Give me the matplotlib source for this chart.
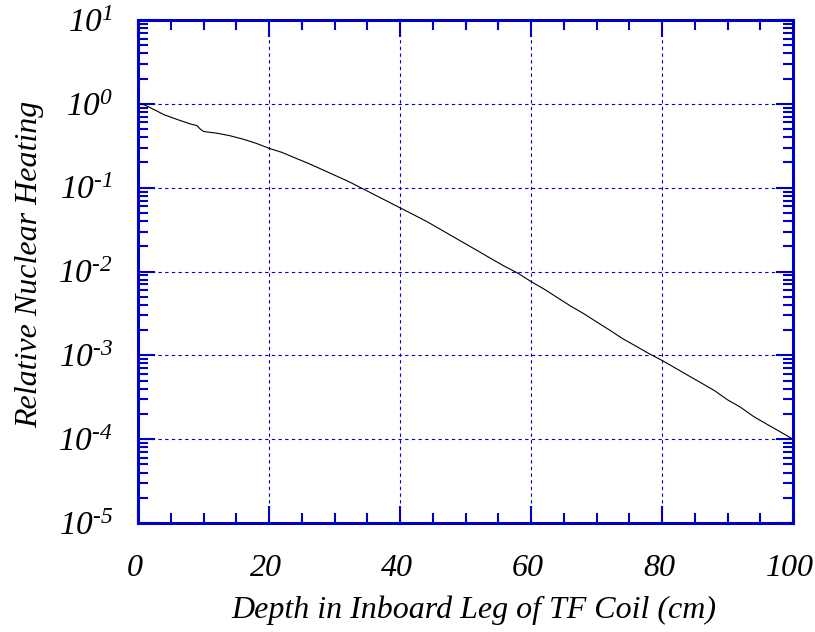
import matplotlib
matplotlib.use("Agg")
import matplotlib.pyplot as plt
import matplotlib.transforms as mtrans
import numpy as np
from matplotlib.ticker import LogLocator, FuncFormatter, NullFormatter, MultipleLocator

plt.rcParams['font.family'] = ['Liberation Serif']
plt.rcParams['font.style'] = 'italic'
plt.rcParams['mathtext.fontset'] = 'custom'
plt.rcParams['mathtext.rm'] = 'Liberation Serif:italic'
plt.rcParams['mathtext.it'] = 'Liberation Serif:italic'

depth = [0, 1, 2, 4, 6, 8, 9, 9.5, 10, 12, 14, 16, 18, 20, 22, 24, 26, 28, 30, 32, 34,
         36, 38, 40, 42, 44, 46, 48, 50, 52, 54, 56, 58, 60, 62, 64, 66, 68, 70, 72,
         74, 76, 78, 80, 82, 84, 86, 88, 90, 92, 94, 96, 98, 100]
heating = [1.0, 0.97, 0.89, 0.74, 0.65, 0.575, 0.55, 0.50, 0.468, 0.447, 0.417, 0.38,
           0.339, 0.295, 0.263, 0.226, 0.195, 0.166, 0.141, 0.120, 0.100,
           0.0832, 0.0692, 0.0575, 0.0479, 0.0398, 0.0324, 0.0263, 0.0214, 0.0174,
           0.0141, 0.0115, 0.00955, 0.00759, 0.00617, 0.0049, 0.00389, 0.00316,
           0.00251, 0.002, 0.00158, 0.00129, 0.00105, 0.00087, 0.000708, 0.000575,
           0.000468, 0.00038, 0.000295, 0.00024, 0.000186, 0.000151, 0.000123, 0.0001]

xlim = (0, 100)
ylim = (1e-5, 1e1)
xlabel = "Depth in Inboard Leg of TF Coil (cm)"
ylabel = "Relative Nuclear Heating"

blue = '#0000CC'
fig = plt.figure(figsize=(8.15, 6.32), dpi=100)
ax = fig.add_axes([138/815, 1-523/632, (793-138)/815, (523-20)/632])
ax.plot(depth, heating, color='black', lw=0.8)
ax.set_yscale('log')
ax.set_xlim(*xlim)
ax.set_ylim(*ylim)

ax.xaxis.set_major_locator(MultipleLocator(20))
ax.xaxis.set_minor_locator(MultipleLocator(5))
ax.yaxis.set_major_locator(LogLocator(base=10, numticks=20))
ax.yaxis.set_minor_locator(LogLocator(base=10, subs=np.arange(2, 10), numticks=20))
ax.yaxis.set_minor_formatter(NullFormatter())
ax.yaxis.set_major_formatter(FuncFormatter(
    lambda v, p: r'$10^{\text{%d}}$' % int(round(np.log10(v)))))

ax.tick_params(which='both', direction='in', top=True, right=True, color=blue)
ax.tick_params(which='major', length=12, width=1.5)
ax.tick_params(which='minor', length=7, width=1.5)
ax.tick_params(axis='x', which='major', pad=22, labelsize=23)
ax.tick_params(axis='y', which='major', pad=18, labelsize=24)
for s in ax.spines.values():
    s.set_color(blue)
    s.set_linewidth(2.2)
ax.grid(True, which='major', color=blue, linestyle=(0, (3, 3)), linewidth=0.8)

ax.set_xlabel(xlabel, fontsize=23)
ax.xaxis.label.set_va('baseline')
ax.xaxis.set_label_coords(0.512, (523 - 618) / 503)
ax.set_ylabel(ylabel, fontsize=23)
ax.yaxis.set_label_coords((44 - 138) / 655, 0.515)

fig.canvas.draw()
shift = mtrans.ScaledTranslation(-3 / 100, 0, fig.dpi_scale_trans)
for lab in ax.get_xticklabels():
    lab.set_transform(lab.get_transform() + shift)

fig.savefig('out.png', dpi=100)
